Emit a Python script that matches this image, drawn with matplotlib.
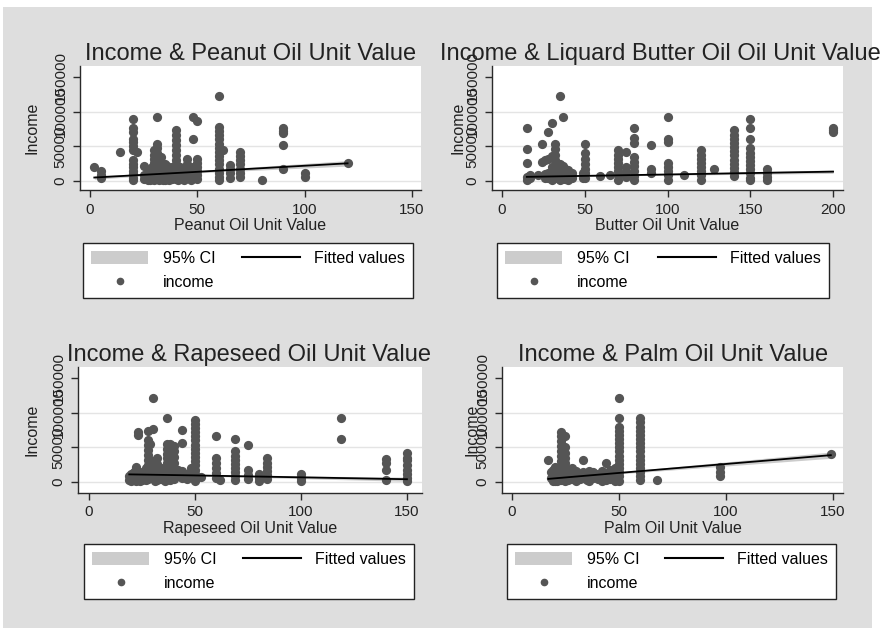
import matplotlib
matplotlib.use('Agg')
import matplotlib.pyplot as plt
from matplotlib.patches import Rectangle, Patch
from matplotlib.lines import Line2D
import numpy as np

plt.rcParams['font.family'] = ['Liberation Sans', 'DejaVu Sans']

# ---------------- data ----------------
peanut_x = [2, 5, 5, 5, 14,
            20, 20, 20, 20, 20, 20, 20, 20, 20, 20, 20, 20, 20, 20,
            22, 25, 25, 25, 27, 27, 27, 28, 28, 28, 28, 29, 29, 29,
            30, 30, 30, 30, 30, 30, 30, 30,
            31, 31, 31, 31, 31, 31, 31, 31, 31,
            32, 32, 32, 32, 32, 33, 33, 33, 33, 33, 34, 34, 34,
            35, 35, 35, 35, 36, 36, 36, 37, 37, 37, 38, 38, 38, 39, 39,
            40, 40, 40, 40, 40, 40, 40, 40, 40, 40, 40,
            41, 41, 41, 42, 42, 42, 43, 43, 44, 44, 44,
            45, 45, 45, 45, 45, 46, 46, 47, 47, 48, 48, 48, 48,
            50, 50, 50, 50, 50, 50, 50,
            60, 60, 60, 60, 60, 60, 60, 60, 60, 60, 60, 60, 60, 60, 60,
            62, 65, 65, 65, 65, 70, 70, 70, 70, 70, 70, 70,
            80, 90, 90, 90, 90, 90, 100, 100, 120]
peanut_income = [20000, 15000, 8000, 4000, 42000,
                 89000, 76000, 71000, 61000, 56000, 50000, 44000, 30000, 25000, 20000, 15000, 10000, 5000, 1000,
                 42000, 21000, 8000, 3000, 12000, 6000, 2000, 15000, 8000, 3000, 1000, 20000, 10000, 4000,
                 44000, 38000, 32000, 26000, 20000, 14000, 8000, 2000,
                 54000, 47000, 92000, 40000, 33000, 25000, 18000, 10000, 3000,
                 28000, 20000, 12000, 5000, 1000, 35000, 24000, 16000, 9000, 3000, 18000, 10000, 2000,
                 25000, 15000, 6000, 1000, 22000, 12000, 4000, 14000, 7000, 2000, 20000, 11000, 3000, 12000, 5000,
                 73000, 66000, 59000, 52000, 45000, 38000, 31000, 24000, 17000, 10000, 3000,
                 15000, 6000, 1000, 20000, 12000, 4000, 10000, 3000, 16000, 8000, 2000,
                 32000, 25000, 18000, 11000, 4000, 14000, 6000, 9000, 2000, 92000, 61000, 20000, 8000,
                 86000, 32000, 26000, 20000, 14000, 8000, 3000,
                 122000, 78000, 72000, 66000, 60000, 54000, 48000, 42000, 36000, 30000, 24000, 18000, 12000, 6000, 1000,
                 45000, 23000, 17000, 11000, 5000, 42000, 36000, 30000, 24000, 18000, 12000, 6000,
                 2000, 76000, 72500, 69500, 52000, 18000, 11500, 6000, 26000]

butter_x = [15, 15, 15, 15, 15, 17, 17, 22, 24, 24, 26, 26, 26, 28, 28, 28, 28,
            30, 30, 30, 30, 30, 32, 32, 32, 32, 32, 32, 32, 33, 33, 33,
            35, 35, 35, 35, 35, 36, 36, 36, 37, 37, 37, 37, 38, 38, 38, 40, 40, 40, 42, 42,
            49, 49, 50, 50, 50, 50, 50, 50, 50, 59, 65,
            70, 70, 70, 70, 70, 70, 70, 70, 75, 75, 75, 75,
            80, 80, 80, 80, 80, 80, 80, 80, 80, 90, 90, 90,
            100, 100, 100, 100, 100, 100, 100, 100, 110,
            120, 120, 120, 120, 120, 120, 120, 120, 128,
            140, 140, 140, 140, 140, 140, 140, 140, 140, 140, 140, 140,
            150, 150, 150, 150, 150, 150, 150, 150, 150, 150, 150, 150,
            160, 160, 160, 160, 200, 200, 200]
butter_income = [76000, 45500, 26000, 6000, 2000, 8000, 4000, 9000, 54000, 27500, 30000, 10000, 4000, 71000, 32000, 12000, 5000,
                 84000, 36000, 20000, 9000, 2000, 54000, 46000, 38000, 30000, 22000, 14000, 6000, 20000, 12000, 4000,
                 122000, 25000, 16000, 8000, 2000, 20000, 11000, 3000, 92000, 22000, 14000, 6000, 18000, 10000, 3000, 16000, 8000, 2000, 12000, 5000,
                 12000, 4000, 54000, 40000, 32000, 25000, 18000, 11000, 5000, 7000, 8000,
                 44000, 38000, 32000, 26000, 20000, 14000, 8000, 2000, 42000, 20000, 13000, 6000,
                 76000, 62000, 55000, 35000, 28000, 21000, 14000, 7000, 2000, 52000, 18000, 12000,
                 92000, 61000, 56000, 26000, 20000, 14000, 8000, 2000, 9000,
                 44000, 38000, 32000, 26000, 20000, 14000, 8000, 2000, 18000,
                 73000, 67000, 61000, 55000, 49000, 43000, 37000, 31000, 25000, 19000, 13000, 7000,
                 89000, 76000, 61000, 47000, 41000, 35000, 29000, 23000, 17000, 11000, 5000, 1000,
                 18000, 12000, 6000, 2000, 77000, 73500, 71000]

rapeseed_x = [19, 19, 20, 20, 20, 21, 21, 21, 22, 22, 22, 22, 23, 23, 23, 23, 24, 24, 24, 25, 25,
              27, 27, 27, 28, 28, 28, 28, 28, 28, 28, 28, 28, 28, 29, 29, 29,
              30, 30, 30, 30, 30, 31, 31, 31, 32, 32, 32, 32, 32, 34, 34, 34, 36, 36, 36,
              37, 37, 37, 37, 37, 37, 37, 37, 37, 38, 38, 38, 38, 38,
              40, 40, 40, 40, 40, 40, 40, 42, 42, 44, 44, 44, 44, 46, 46, 48, 48,
              50, 50, 50, 50, 50, 50, 50, 50, 50, 50, 50, 50, 50, 50, 50, 50,
              53, 60, 60, 60, 60, 60, 60, 62,
              69, 69, 69, 69, 69, 69, 69, 69, 69, 75, 75, 75, 75, 80, 80, 80,
              84, 84, 84, 84, 84, 84, 100, 100, 100, 119, 119,
              140, 140, 140, 140, 150, 150, 150, 150, 150, 150, 150, 150]
rapeseed_income = [3000, 8000, 6000, 12000, 2000, 10000, 4000, 15000, 18000, 8000, 2000, 21000, 72000, 68000, 12000, 5000, 14000, 6000, 1000, 9000, 3000,
                   20000, 10000, 3000, 73000, 60000, 53000, 46000, 39000, 32000, 25000, 18000, 11000, 4000, 55000, 14000, 6000,
                   121000, 77000, 30000, 20000, 8000, 22000, 10000, 2000, 34000, 26000, 18000, 10000, 3000, 20000, 12000, 4000, 14000, 6000, 1000,
                   92000, 55000, 48000, 41000, 34000, 27000, 20000, 13000, 6000, 55000, 40000, 25000, 12000, 3000,
                   52000, 44000, 36000, 28000, 20000, 12000, 4000, 18000, 8000, 75000, 56000, 16000, 6000, 12000, 4000, 20000, 8000,
                   90000, 84000, 78000, 72000, 66000, 60000, 54000, 48000, 42000, 36000, 30000, 24000, 18000, 12000, 6000, 1000,
                   7000, 66000, 34000, 27000, 20000, 13000, 6000, 3000,
                   61500, 44000, 38000, 32000, 26000, 20000, 14000, 8000, 3000, 53000, 17000, 10000, 4000, 12000, 6000, 1000,
                   34000, 28000, 22000, 16000, 10000, 4000, 12000, 6000, 2000, 92000, 61500,
                   32500, 27500, 17000, 3500, 42000, 35000, 31500, 25000, 18000, 12000, 6000, 1000]

palm_x = [17, 18, 18, 19, 19, 19, 20, 20, 20, 20, 21, 21, 21, 22, 22, 22,
          23, 23, 23, 23, 23, 23, 23, 23, 23, 23, 23, 24, 24,
          25, 25, 25, 25, 25, 25, 25, 25, 25, 26, 26, 26, 27, 27, 28, 28, 28,
          30, 30, 30, 32, 32, 33, 33, 33, 35, 35, 36, 36, 36, 38, 38, 40, 40,
          42, 42, 42, 44, 44, 44, 46, 46, 46, 48, 48, 48, 48,
          50, 50, 50, 50, 50, 50, 50, 50, 50, 50, 50, 50, 50, 50, 50, 50,
          60, 60, 60, 60, 60, 60, 60, 60, 60, 60, 60, 60, 60, 60, 60, 60,
          68, 97, 97, 97, 149]
palm_income = [31500, 14000, 6000, 18000, 10000, 2000, 22000, 14000, 6000, 1000, 16000, 8000, 2000, 20000, 12000, 4000,
               72500, 66000, 59000, 52000, 45000, 38000, 31000, 24000, 17000, 10000, 3000, 12000, 5000,
               66000, 51000, 42000, 35000, 28000, 21000, 14000, 7000, 1000, 18000, 10000, 3000, 14000, 6000, 20000, 12000, 4000,
               16000, 8000, 2000, 12000, 5000, 31500, 14000, 6000, 10000, 3000, 16000, 8000, 2000, 14000, 6000, 12000, 4000,
               16000, 8000, 2000, 27000, 10000, 3000, 18000, 12000, 5000, 20000, 14000, 6000, 1000,
               121000, 92000, 80000, 74000, 68000, 62000, 56000, 50000, 44000, 38000, 32000, 26000, 20000, 14000, 8000, 2000,
               92000, 86000, 80000, 74000, 68000, 62000, 56000, 50000, 44000, 38000, 32000, 26000, 20000, 14000, 8000, 2500,
               2500, 22000, 14500, 8700, 41000]

# fitted line (x at start / middle / end) and 95% CI half-widths
peanut_fit_x = [2, 40, 120]
peanut_fit_y = [5000, 11500, 25500]
peanut_ci_half = [2500, 1200, 4000]

butter_fit_x = [15, 80, 200]
butter_fit_y = [6000, 8600, 13500]
butter_ci_half = [1500, 800, 2500]

rapeseed_fit_x = [19, 50, 150]
rapeseed_fit_y = [11000, 9500, 4000]
rapeseed_ci_half = [1500, 800, 3000]

palm_fit_x = [17, 35, 149]
palm_fit_y = [4500, 9200, 38700]
palm_ci_half = [1200, 900, 4500]

titles = ["Income & Peanut Oil Unit Value",
          "Income & Liquard Butter Oil Oil Unit Value",
          "Income & Rapeseed Oil Unit Value",
          "Income & Palm Oil Unit Value"]
xlabels = ["Peanut Oil Unit Value", "Butter Oil Unit Value",
           "Rapeseed Oil Unit Value", "Palm Oil Unit Value"]
xtick_sets = [[0, 50, 100, 150], [0, 50, 100, 150, 200],
              [0, 50, 100, 150], [0, 50, 100, 150]]
yticks = [0, 50000, 100000, 150000]
ygrid = [0, 50000, 100000]
legend_labels = ["95% CI", "income", "Fitted values"]

# ---------------- layout (pixels) ----------------
W, H = 893, 628
fig = plt.figure(figsize=(W / 100, H / 100), dpi=100)
fig.patch.set_facecolor('white')
fig.patches.append(Rectangle((3 / W, 0), (872 - 3) / W, 1 - 7 / H,
                             transform=fig.transFigure, facecolor='#dedede',
                             edgecolor='none', zorder=-10))

def fx(x):
    return x / W

def fy(y):
    return 1 - y / H

panels = [
    dict(box=(80, 66, 421, 190), xlim=(-4.66, 154.2), ylim=(-12981, 165865),
         tx=251, ty=60, ylx=40, leg=(83, 243, 413)),
    dict(box=(492, 66, 843, 190), xlim=(-6.04, 206.0), ylim=(-12981, 165865),
         tx=660, ty=60, ylx=465, leg=(497, 243, 829)),
    dict(box=(78, 367, 422, 493), xlim=(-5.19, 157.1), ylim=(-15865, 165865),
         tx=249, ty=361, ylx=40, leg=(84, 544, 414)),
    dict(box=(502, 367, 843, 493), xlim=(-4.67, 154.7), ylim=(-15865, 165865),
         tx=673, ty=361, ylx=480, leg=(507, 544, 836)),
]

series = [(peanut_x, peanut_income, peanut_fit_x, peanut_fit_y, peanut_ci_half),
          (butter_x, butter_income, butter_fit_x, butter_fit_y, butter_ci_half),
          (rapeseed_x, rapeseed_income, rapeseed_fit_x, rapeseed_fit_y, rapeseed_ci_half),
          (palm_x, palm_income, palm_fit_x, palm_fit_y, palm_ci_half)]

dot_color = '#555555'
ci_color = '#cccccc'
axis_color = '#2a2a2a'

for i, (p, s) in enumerate(zip(panels, series)):
    l, t, r, b = p['box']
    ax = fig.add_axes([fx(l), fy(b), (r - l) / W, (b - t) / H])
    ax.set_facecolor('white')
    xs, ys, fxs, fys, ci = s
    fxs = np.array(fxs, float)
    fys = np.array(fys, float)
    ci = np.array(ci, float)
    for g in ygrid:
        ax.axhline(g, color='#e4e4e4', lw=1.0, zorder=0)
    ax.fill_between(fxs, fys - ci, fys + ci, color=ci_color, lw=0, zorder=1)
    ax.scatter(xs, ys, s=44, color=dot_color, linewidths=0, zorder=2)
    ax.plot(fxs, fys, color='black', lw=1.3, zorder=3)
    ax.set_xlim(*p['xlim'])
    ax.set_ylim(*p['ylim'])
    ax.set_xticks(xtick_sets[i])
    ax.set_yticks(yticks)
    ax.set_yticklabels([str(v) for v in yticks], rotation=90, va='center')
    for sp in ['top', 'right']:
        ax.spines[sp].set_visible(False)
    for sp in ['left', 'bottom']:
        ax.spines[sp].set_color(axis_color)
        ax.spines[sp].set_linewidth(1.0)
    ax.tick_params(direction='out', length=5, width=1, color=axis_color,
                   labelsize=11, labelcolor='#222222')
    ax.tick_params(axis='y', pad=4)
    ax.tick_params(axis='x', pad=4)
    ax.set_xlabel(xlabels[i], fontsize=11.5, color='#222222', labelpad=1)
    ax.set_ylabel("Income", fontsize=11.5, color='#222222')
    ax.yaxis.set_label_coords((p['ylx'] - l) / (r - l), 0.5)
    fig.text(fx(p['tx']), fy(p['ty']), titles[i], fontsize=17, ha='center',
             va='baseline', color='#222222')

    ll, lt, lr = p['leg']
    handles = [Patch(facecolor=ci_color, edgecolor='none'),
               Line2D([], [], ls='none', marker='o', ms=4.5, color=dot_color),
               Line2D([], [], color='black', lw=1.5)]
    leg = fig.legend(handles, legend_labels, loc='upper left',
                     bbox_to_anchor=(fx(ll), fy(lt), (lr - ll) / W, 0),
                     bbox_transform=fig.transFigure, mode='expand', ncol=2,
                     fontsize=11.5, frameon=True, fancybox=False,
                     edgecolor='#222222', facecolor='white', framealpha=1,
                     borderaxespad=0, handlelength=3.6, handleheight=0.9,
                     handletextpad=0.9, labelspacing=0.55, borderpad=0.5,
                     columnspacing=2.0)
    leg.get_frame().set_linewidth(1.0)

fig.savefig('out.png', dpi=100, facecolor=fig.get_facecolor())
